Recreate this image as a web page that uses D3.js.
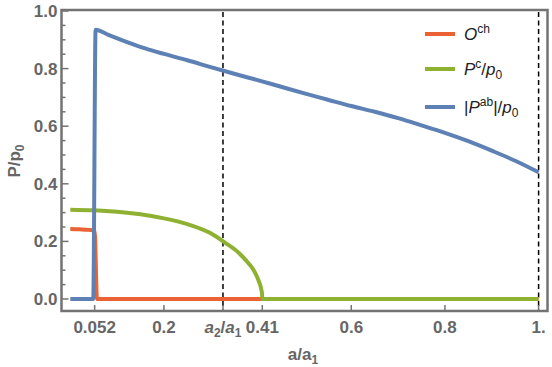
<!DOCTYPE html>
<html>
<head>
<meta charset="utf-8">
<script src="https://cdn.jsdelivr.net/npm/d3@7"></script>
<style>
  body { margin: 0; background: #fff; }
  svg { display: block; font-family: "Liberation Sans", Arial, sans-serif; }
  .tick-label { font-size: 17px; font-weight: bold; fill: #666; }
  .axis-title { font-size: 17px; font-weight: bold; fill: #666; }
  .legend-text { font-size: 17px; fill: #222; }
  .frame { fill: none; stroke: #737373; stroke-width: 2.5; }
  .tick { stroke: #737373; stroke-width: 1.5; }
  .dash { stroke: #000; stroke-width: 1.5; stroke-dasharray: 5 3.5; }
  .curve { fill: none; stroke-width: 4; stroke-linejoin: round; }
</style>
</head>
<body>
<svg id="chart" width="552" height="367"></svg>
<script>
// series: [a/a1, value]
const ochData = [[0, 0.243], [0.02, 0.242], [0.04, 0.240], [0.052, 0.237], [0.057, 0], [0.2, 0], [0.5, 0], [1.0, 0]];
const pcData = [[0, 0.310], [0.05, 0.308], [0.1, 0.303], [0.15, 0.294], [0.2, 0.280], [0.25, 0.260],
  [0.3, 0.228], [0.33, 0.196], [0.36, 0.160], [0.38, 0.125], [0.39, 0.104], [0.398, 0.080], [0.403, 0.060],
  [0.406, 0.046], [0.408, 0.032], [0.4095, 0.018], [0.41, 0], [0.6, 0], [1.0, 0]];
const pabData = [[0, 0], [0.049, 0], [0.054, 0.935], [0.08, 0.918], [0.12, 0.893], [0.16, 0.870], [0.2, 0.851],
  [0.25, 0.829], [0.3, 0.805], [0.35, 0.782], [0.4, 0.760], [0.45, 0.737], [0.5, 0.714], [0.55, 0.692],
  [0.6, 0.670], [0.65, 0.650], [0.7, 0.628], [0.75, 0.603], [0.8, 0.577], [0.85, 0.548], [0.9, 0.515],
  [0.95, 0.480], [1.0, 0.440]];

const xTickValues = [0.052, 0.2, 0.326, 0.41, 0.6, 0.8, 1.0];
const xTickLabels = ["0.052", "0.2", "a2/a1", "0.41", "0.6", "0.8", "1."];
const yTickValues = [0, 0.2, 0.4, 0.6, 0.8, 1.0];
const yMinorValues = [0.05, 0.1, 0.15, 0.25, 0.3, 0.35, 0.45, 0.5, 0.55, 0.65, 0.7, 0.75, 0.85, 0.9, 0.95];
const dashedAt = [0.326, 1.0];

const legendNames = ["O^ch", "P^c/p0", "|P^ab|/p0"];
const colors = ["#EB6235", "#8FB131", "#5E81B5"];

const svg = d3.select("#chart");
const frame = {left: 61.5, right: 547.5, top: 10, bottom: 311};

const x = d3.scaleLinear().domain([0, 1]).range([70.3, 538.6]);
const y = d3.scaleLinear().domain([0, 1]).range([299, 11]);

// dashed reference lines
svg.selectAll("line.dash").data(dashedAt).enter().append("line")
  .attr("class", "dash")
  .attr("x1", d => x(d)).attr("x2", d => x(d))
  .attr("y1", frame.top + 2).attr("y2", frame.bottom);

// curves, drawn in legend order so blue ends on top
const line = d3.line().x(d => x(d[0])).y(d => y(d[1])).curve(d3.curveMonotoneX);
[ochData, pcData, pabData].forEach((data, i) => {
  svg.append("path").attr("class", "curve")
    .attr("stroke", colors[i])
    .attr("d", line(data));
});

// frame
svg.append("rect").attr("class", "frame")
  .attr("x", frame.left).attr("y", frame.top)
  .attr("width", frame.right - frame.left).attr("height", frame.bottom - frame.top);

// y ticks (inward)
svg.selectAll("line.ymaj").data(yTickValues).enter().append("line")
  .attr("class", "tick")
  .attr("x1", frame.left).attr("x2", frame.left + 7)
  .attr("y1", d => y(d)).attr("y2", d => y(d));
svg.selectAll("line.ymin").data(yMinorValues).enter().append("line")
  .attr("class", "tick")
  .attr("x1", frame.left).attr("x2", frame.left + 4)
  .attr("y1", d => y(d)).attr("y2", d => y(d));
svg.selectAll("text.ylab").data(yTickValues).enter().append("text")
  .attr("class", "tick-label")
  .attr("x", frame.left - 4).attr("y", d => y(d) + 6)
  .attr("text-anchor", "end")
  .text(d => d.toFixed(1));

// x ticks
svg.selectAll("line.xmaj").data(xTickValues).enter().append("line")
  .attr("class", "tick")
  .attr("x1", d => x(d)).attr("x2", d => x(d))
  .attr("y1", frame.bottom).attr("y2", frame.bottom - 6);
xTickValues.forEach((v, i) => {
  const t = svg.append("text").attr("class", "tick-label")
    .attr("x", x(v)).attr("y", 333).attr("text-anchor", "middle");
  const lab = xTickLabels[i];
  if (lab.includes("/")) {
    const [num, den] = lab.split("/");
    t.append("tspan").attr("font-style", "italic").text(num[0]);
    t.append("tspan").attr("font-size", 12).attr("dy", 4).text(num.slice(1));
    t.append("tspan").attr("dy", -4).text("/");
    t.append("tspan").attr("font-style", "italic").text(den[0]);
    t.append("tspan").attr("font-size", 12).attr("dy", 4).text(den.slice(1));
  } else {
    t.text(lab);
  }
});

// axis titles
const xt = svg.append("text").attr("class", "axis-title")
  .attr("x", 303).attr("y", 360).attr("text-anchor", "middle");
xt.append("tspan").text("a/a");
xt.append("tspan").attr("font-size", 12).attr("dy", 4).text("1");

const yt = svg.append("text").attr("class", "axis-title")
  .attr("transform", "translate(20,161) rotate(-90)").attr("text-anchor", "middle");
yt.append("tspan").text("P/p");
yt.append("tspan").attr("font-size", 12).attr("dy", 4).text("0");

// legend
const legendY = [34, 69, 107];
legendNames.forEach((name, i) => {
  svg.append("line")
    .attr("x1", 425).attr("x2", 455)
    .attr("y1", legendY[i]).attr("y2", legendY[i])
    .attr("stroke", colors[i]).attr("stroke-width", 4);
  const t = svg.append("text").attr("class", "legend-text")
    .attr("x", 464).attr("y", legendY[i] + 6);
  const m = name.match(/^(\|?)([A-Z])\^([a-z]+)(\|?)(\/p0)?$/);
  if (m[1]) t.append("tspan").text("|");
  t.append("tspan").attr("font-style", "italic").text(m[2]);
  t.append("tspan").attr("font-size", 12).attr("dy", -7).text(m[3]);
  if (m[4]) t.append("tspan").attr("dy", 7).text("|");
  if (m[5]) {
    t.append("tspan").attr("dy", m[4] ? 0 : 7).text("/");
    t.append("tspan").attr("font-style", "italic").text("p");
    t.append("tspan").attr("font-size", 12).attr("dy", 4).text("0");
  }
});
</script>
</body>
</html>
